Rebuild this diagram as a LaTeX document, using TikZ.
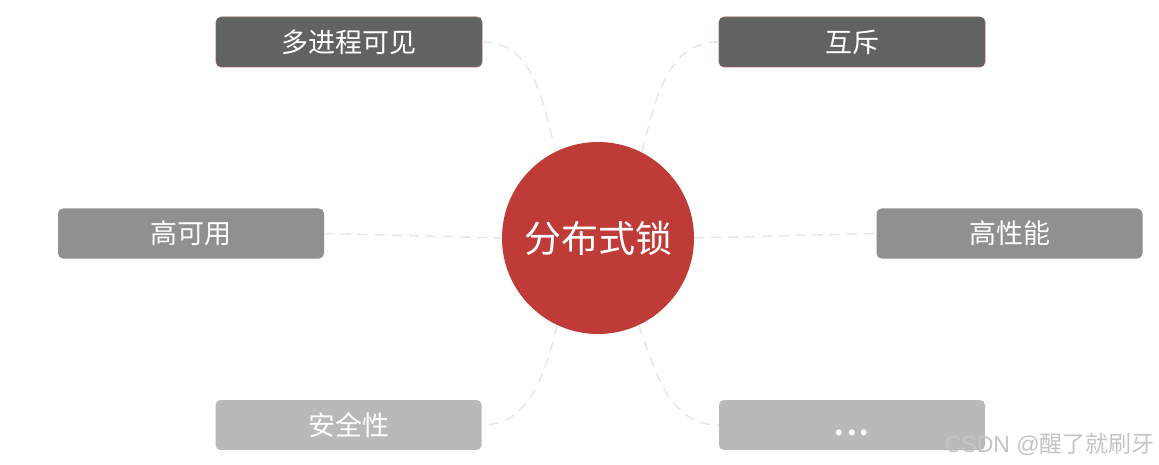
\documentclass[tikz,border=0pt]{standalone}
\usepackage{fontspec}
\setmainfont{Noto Sans CJK SC}
\newfontfamily\wmlatin{Liberation Sans}
\newfontfamily\wmcjk{Noto Sans CJK SC}
\definecolor{hub}{HTML}{BF3B38}
\definecolor{darkbox}{HTML}{5F6462}
\definecolor{midbox}{HTML}{909090}
\definecolor{lightbox}{HTML}{B9B9B9}
\definecolor{edgered}{HTML}{9A6464}
\definecolor{link}{HTML}{E6E6E6}
\definecolor{wm}{HTML}{C4C4C4}
\begin{document}
\begin{tikzpicture}[x=1pt,y=-1pt,
  leaf/.style={rounded corners=5pt, minimum width=266pt, minimum height=50pt,
    text=white, font=\fontsize{27}{32}\selectfont, inner sep=0pt},
  darkleaf/.style={leaf, fill=darkbox, draw=edgered, line width=0.6pt},
  midleaf/.style={leaf, fill=midbox},
  lightleaf/.style={leaf, fill=lightbox},
  linkline/.style={draw=link, line width=1.4pt, dash pattern=on 10pt off 7pt}]
\useasboundingbox (0,0) rectangle (1159,465);
\fill[white] (0,0) rectangle (1159,465);

\node[circle, fill=hub, minimum size=192pt, inner sep=0pt, text=white,
  font=\fontsize{37}{44}\selectfont] (hub) at (598,238) {分布式锁};

\node[darkleaf] (a) at (349,42) {多进程可见};
\node[darkleaf] (b) at (852,42) {互斥};
\node[midleaf] (c) at (191,233.5) {高可用};
\node[midleaf] (d) at (1009.5,233.5) {高性能};
\node[lightleaf] (e) at (348.5,425) {安全性};
\node[lightleaf] (f) at (852,425) {\raisebox{-10pt}[0pt][0pt]{\bfseries.\kern3pt.\kern3pt.}};

\path[linkline] (a.east) to[out=0,in=105] (hub.116);
\path[linkline] (b.west) to[out=180,in=75] (hub.63);
\path[linkline] (c.east) -- (hub.west);
\path[linkline] (hub.east) -- (d.west);
\path[linkline] (hub.245) to[out=-105,in=0] (e.east);
\path[linkline] (hub.295) to[out=-70,in=180] (f.west);

\node[anchor=east, text=wm, font=\fontsize{23}{26}\selectfont, inner sep=0pt] (wmk) at (1155,444) {{\wmlatin CSDN @}\wmcjk 醒了就刷牙};
\end{tikzpicture}
\end{document}
